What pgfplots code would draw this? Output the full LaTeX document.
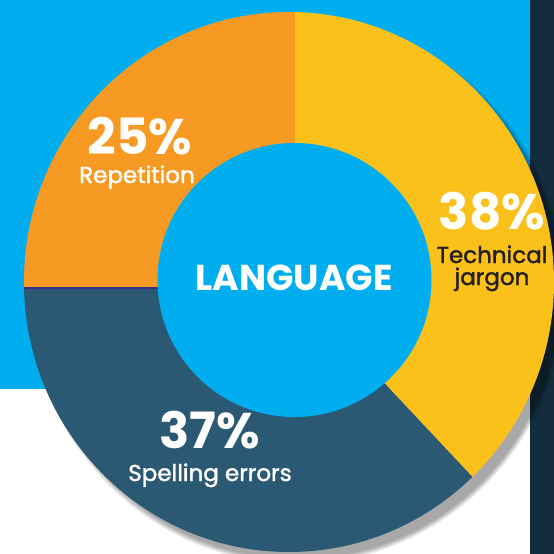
\documentclass[border=0pt]{standalone}
\usepackage{fontspec}
\setmainfont{Poppins}
\newfontfamily\medfont{Poppins}[FakeBold=1.6]
\usepackage{pgfplots}
\usepackage{pgfplotstable}
\pgfplotsset{compat=1.18}
\definecolor{cyanbg}{HTML}{00AEEF}
\definecolor{navyband}{HTML}{132D3F}
\definecolor{cjargon}{HTML}{FBC11B}
\definecolor{cspell}{HTML}{2B5872}
\definecolor{crep}{HTML}{F79A23}
\definecolor{darktext}{HTML}{231F20}
\definecolor{purpleline}{HTML}{3A2F8F}

\pgfplotstableread{
label value
Technical 38
Spelling 37
Repetition 25
}\piedata

\begin{document}%
\begin{tikzpicture}[
  numlbl/.style={anchor=base, text=white, inner sep=0pt, text height=0.72em, text depth=0pt, font=\bfseries\fontsize{25}{25}\selectfont},
  catlbl/.style={anchor=base, inner sep=0pt, text height=0.74em, text depth=0.22em, font=\medfont\fontsize{11.5}{11.5}\selectfont}]
\pgfplotstablegetelem{0}{value}\of\piedata \let\vA\pgfplotsretval
\pgfplotstablegetelem{1}{value}\of\piedata \let\vB\pgfplotsretval
\pgfplotstablegetelem{2}{value}\of\piedata \let\vC\pgfplotsretval
\pgfmathsetmacro{\aZero}{90}
\pgfmathsetmacro{\aOne}{90-3.6*\vA}
\pgfmathsetmacro{\aTwo}{\aOne-3.6*\vB}
\pgfmathsetmacro{\aThree}{\aTwo-3.6*\vC}
\begin{axis}[
  width=277pt, height=277pt, scale only axis,
  xmin=0, xmax=554, ymin=0, ymax=554,
  axis lines=none, ticks=none, clip=true]
% backgrounds
\fill[white] (axis cs:0,0) rectangle (axis cs:554,554);
\fill[cyanbg] (axis cs:0,165) rectangle (axis cs:530,554);
\fill[navyband] (axis cs:530,0) rectangle (axis cs:554,554);
% shadow
\fill[black, opacity=0.065] (axis cs:297,263) ellipse [x radius=134pt, y radius=136.5pt];
\fill[black, opacity=0.065] (axis cs:297,263) ellipse [x radius=133.5pt, y radius=136pt];
\fill[black, opacity=0.065] (axis cs:297,263) ellipse [x radius=133pt, y radius=135.5pt];
\fill[black, opacity=0.065] (axis cs:297,263) ellipse [x radius=132.5pt, y radius=135pt];
\fill[black, opacity=0.065] (axis cs:297,263) ellipse [x radius=132pt, y radius=134.5pt];
\fill[black, opacity=0.065] (axis cs:297,263) ellipse [x radius=131.5pt, y radius=134pt];
% wedges
\begin{scope}
\clip (axis cs:289,272) ellipse [x radius=132.5pt, y radius=135pt];
\fill[cjargon] (axis cs:295,266) -- ++(\aZero:200pt) arc[start angle=\aZero, end angle=\aOne, radius=200pt] -- cycle;
\fill[cspell] (axis cs:295,266) -- ++(\aOne:200pt) arc[start angle=\aOne, end angle=\aTwo, radius=200pt] -- cycle;
\fill[crep] (axis cs:295,266) -- ++(\aTwo:200pt) arc[start angle=\aTwo, end angle=\aThree, radius=200pt] -- cycle;
\draw[purpleline, line width=0.8pt] (axis cs:0,266) -- (axis cs:200,266);
\end{scope}
% inner hole
\fill[cyanbg] (axis cs:294.5,274) circle[radius=68.5pt];
% labels
\node[numlbl] at (axis cs:140,400) {25\%};
\node[catlbl, text=white] at (axis cs:137,371) {Repetition};
\node[numlbl] at (axis cs:492,325) {38\%};
\node[catlbl, text=darktext] at (axis cs:492,291) {Technical};
\node[catlbl, text=darktext] at (axis cs:492,269) {jargon};
\node[anchor=base, text=white, inner sep=0pt, font=\bfseries\fontsize{18}{18}\selectfont] at (axis cs:294,264) {LANGUAGE};
\node[numlbl] at (axis cs:210,105) {37\%};
\node[catlbl, text=white] at (axis cs:210,73) {Spelling errors};
\end{axis}
\pgfresetboundingbox
\useasboundingbox (current axis.south west) rectangle (current axis.north east);
\end{tikzpicture}%
\end{document}
